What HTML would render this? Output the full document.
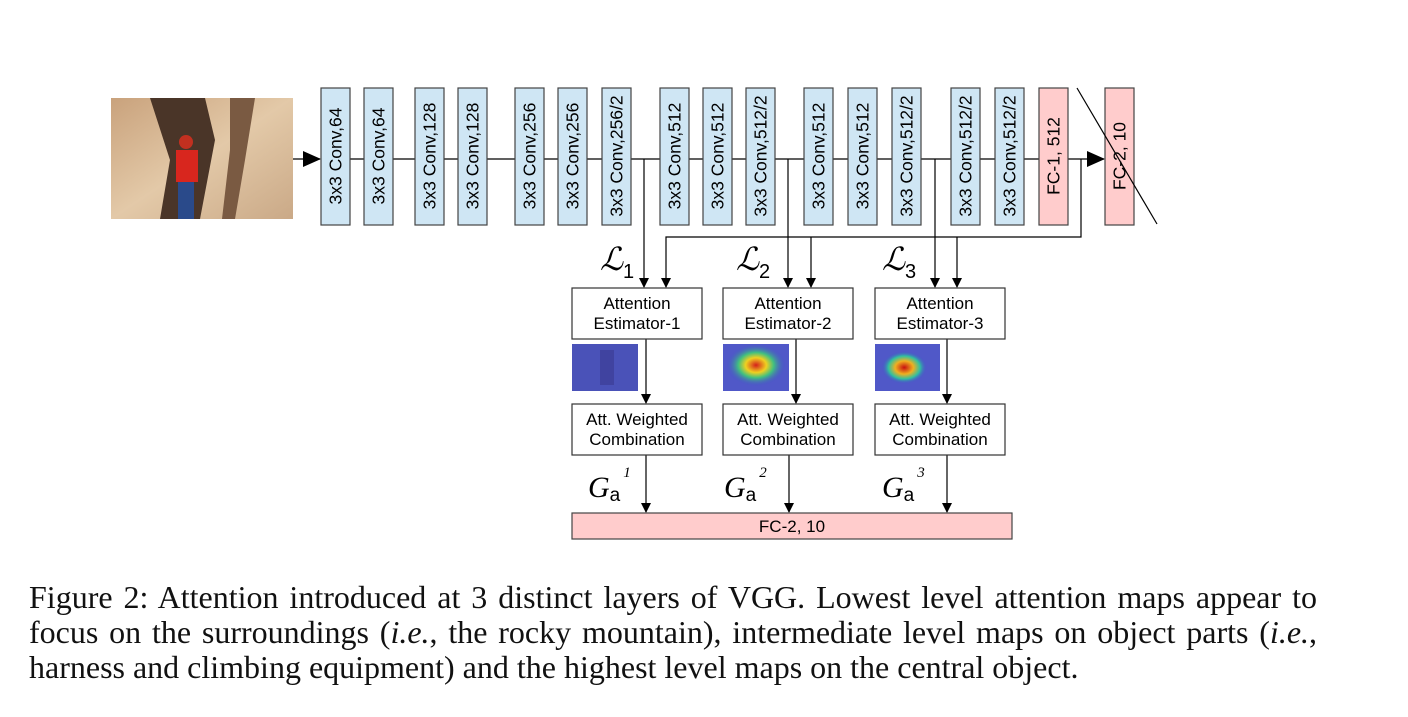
<!DOCTYPE html>
<html><head><meta charset="utf-8"><style>
html,body{margin:0;padding:0;background:#fff;width:1408px;height:717px;overflow:hidden}
svg{position:absolute;left:0;top:0}
.cap{position:absolute;left:29px;top:580px;width:1288px;font-family:"Liberation Serif",serif;font-size:32px;line-height:35px;color:#111;white-space:nowrap}
.cap div.j{text-align:justify;text-align-last:justify}
</style></head><body>
<svg width="1408" height="717" font-family="Liberation Sans, sans-serif">
<defs>
<marker id="ah" markerWidth="10" markerHeight="10" refX="9" refY="5" orient="auto" markerUnits="userSpaceOnUse"><path d="M0,0 L10,5 L0,10 z" fill="#000"/></marker>
<marker id="ahb" markerWidth="18" markerHeight="16" refX="17" refY="8" orient="auto" markerUnits="userSpaceOnUse"><path d="M0,0 L18,8 L0,16 z" fill="#000"/></marker>
<radialGradient id="h2" cx="0.5" cy="0.45" r="0.45"><stop offset="0" stop-color="#d4201c"/><stop offset="0.35" stop-color="#f0d020"/><stop offset="0.6" stop-color="#40c080"/><stop offset="1" stop-color="#4050c8" stop-opacity="0"/></radialGradient>
<radialGradient id="h3" cx="0.45" cy="0.5" r="0.35"><stop offset="0" stop-color="#c81010"/><stop offset="0.4" stop-color="#f0b020"/><stop offset="0.7" stop-color="#30c0a0"/><stop offset="1" stop-color="#4050c8" stop-opacity="0"/></radialGradient>
<linearGradient id="rock" x1="0" y1="0" x2="1" y2="1"><stop offset="0" stop-color="#c9a27c"/><stop offset="0.5" stop-color="#e3c9a8"/><stop offset="1" stop-color="#caa987"/></linearGradient>
</defs>
<g>
<rect x="111" y="98" width="182" height="121" fill="url(#rock)"/>
<path d="M150,98 L205,98 L215,140 L200,219 L160,219 L170,160 Z" fill="#4a3528"/>
<path d="M230,98 L255,98 L245,160 L235,219 L222,219 L230,150 Z" fill="#7a5a42"/>
<rect x="176" y="150" width="22" height="32" fill="#d8261e"/>
<circle cx="186" cy="142" r="7" fill="#c23020"/>
<rect x="178" y="182" width="16" height="37" fill="#2a4a8a"/>
</g>
<g stroke="#000" stroke-width="1.2" fill="none">
<line x1="293" y1="159" x2="320" y2="159" marker-end="url(#ahb)"/>
<line x1="349" y1="159" x2="1039" y2="159"/>
<line x1="1068" y1="159" x2="1104" y2="159" marker-end="url(#ahb)"/>
<polyline points="644,159 644,287" marker-end="url(#ah)"/>
<polyline points="788,159 788,287" marker-end="url(#ah)"/>
<polyline points="935,159 935,287" marker-end="url(#ah)"/>
<polyline points="1081,159 1081,237 666,237 666,287" marker-end="url(#ah)"/>
<polyline points="811,237 811,287" marker-end="url(#ah)"/>
<polyline points="957,237 957,287" marker-end="url(#ah)"/>
<line x1="646" y1="339" x2="646" y2="403" marker-end="url(#ah)"/>
<line x1="796" y1="339" x2="796" y2="403" marker-end="url(#ah)"/>
<line x1="947" y1="339" x2="947" y2="403" marker-end="url(#ah)"/>
<line x1="646" y1="455" x2="646" y2="512" marker-end="url(#ah)"/>
<line x1="789" y1="455" x2="789" y2="512" marker-end="url(#ah)"/>
<line x1="947" y1="455" x2="947" y2="512" marker-end="url(#ah)"/>
</g>
<g id="layers"></g>
<line x1="1077" y1="88" x2="1157" y2="224" stroke="#000" stroke-width="1.2"/>
<g>
<rect x="572" y="344" width="66" height="47" fill="#4a52b8"/><rect x="600" y="350" width="14" height="35" fill="#3a3a90" opacity="0.6"/>
<rect x="723" y="344" width="66" height="47" fill="#5058c8"/><rect x="723" y="344" width="66" height="47" fill="url(#h2)"/>
<rect x="875" y="344" width="65" height="47" fill="#5058c8"/><rect x="875" y="344" width="65" height="47" fill="url(#h3)"/>
</g>
<g id="att" font-size="17" text-anchor="middle"></g>
<rect x="572" y="513" width="440" height="26" fill="#ffcccc" stroke="#444" stroke-width="1.2"/>
<text x="792" y="532" font-size="17" text-anchor="middle">FC-2, 10</text>
<g font-family="Liberation Serif, DejaVu Serif, serif" font-style="italic">
<text x="600" y="270" font-size="32">ℒ<tspan font-style="normal" font-family="Liberation Sans, sans-serif" font-size="20" dy="8">1</tspan></text>
<text x="736" y="270" font-size="32">ℒ<tspan font-style="normal" font-family="Liberation Sans, sans-serif" font-size="20" dy="8">2</tspan></text>
<text x="882" y="270" font-size="32">ℒ<tspan font-style="normal" font-family="Liberation Sans, sans-serif" font-size="20" dy="8">3</tspan></text>
<text x="588" y="497" font-size="30">G<tspan font-style="normal" font-family="Liberation Sans, sans-serif" font-size="19" dy="4">a</tspan><tspan font-size="15" dx="3" dy="-24">1</tspan></text>
<text x="724" y="497" font-size="30">G<tspan font-style="normal" font-family="Liberation Sans, sans-serif" font-size="19" dy="4">a</tspan><tspan font-size="15" dx="3" dy="-24">2</tspan></text>
<text x="882" y="497" font-size="30">G<tspan font-style="normal" font-family="Liberation Sans, sans-serif" font-size="19" dy="4">a</tspan><tspan font-size="15" dx="3" dy="-24">3</tspan></text>
</g>
</svg>
<div class="cap"><div class="j">Figure 2: Attention introduced at 3 distinct layers of VGG. Lowest level attention maps appear to</div><div class="j">focus on the surroundings (<i>i.e.</i>, the rocky mountain), intermediate level maps on object parts (<i>i.e.</i>,</div><div>harness and climbing equipment) and the highest level maps on the central object.</div></div>
<script>
const layerNames=["3x3 Conv,64","3x3 Conv,64","3x3 Conv,128","3x3 Conv,128","3x3 Conv,256","3x3 Conv,256","3x3 Conv,256/2","3x3 Conv,512","3x3 Conv,512","3x3 Conv,512/2","3x3 Conv,512","3x3 Conv,512","3x3 Conv,512/2","3x3 Conv,512/2","3x3 Conv,512/2","FC-1, 512","FC-2, 10"];
const layerX=[321,364,415,458,515,558,602,660,703,746,804,848,892,951,995,1039,1105];
const NS="http://www.w3.org/2000/svg";
const g=document.getElementById('layers');
layerNames.forEach((n,i)=>{
  const fc=n.startsWith('FC');
  const r=document.createElementNS(NS,'rect');
  r.setAttribute('x',layerX[i]);r.setAttribute('y',88);r.setAttribute('width',29);r.setAttribute('height',137);
  r.setAttribute('fill',fc?'#ffcccc':'#cfe6f4');r.setAttribute('stroke','#444');r.setAttribute('stroke-width','1.2');
  
  
  g.appendChild(r);
  const t=document.createElementNS(NS,'text');
  const cx=layerX[i]+14.5+6, cy=156;
  t.setAttribute('x',cx);t.setAttribute('y',cy);t.setAttribute('text-anchor','middle');t.setAttribute('font-size','17.5');
  t.setAttribute('transform','rotate(-90 '+cx+' '+cy+')');
  t.textContent=n;
  
  
  g.appendChild(t);
});
const attX=[572,723,875];
const a=document.getElementById('att');
attX.forEach((x,i)=>{
  [[288,'Attention','Estimator-'+(i+1)],[404,'Att. Weighted','Combination']].forEach(([y,l1,l2])=>{
    const r=document.createElementNS(NS,'rect');
    r.setAttribute('x',x);r.setAttribute('y',y);r.setAttribute('width',130);r.setAttribute('height',51);
    r.setAttribute('fill','#fff');r.setAttribute('stroke','#333');r.setAttribute('stroke-width','1.2');
    
    
    a.appendChild(r);
    [[l1,y+21],[l2,y+41]].forEach(([s,yy])=>{
      const t=document.createElementNS(NS,'text');
      t.setAttribute('x',x+65);t.setAttribute('y',yy);t.textContent=s;
      
      
      a.appendChild(t);
    });
  });
});
</script>
</body></html>
